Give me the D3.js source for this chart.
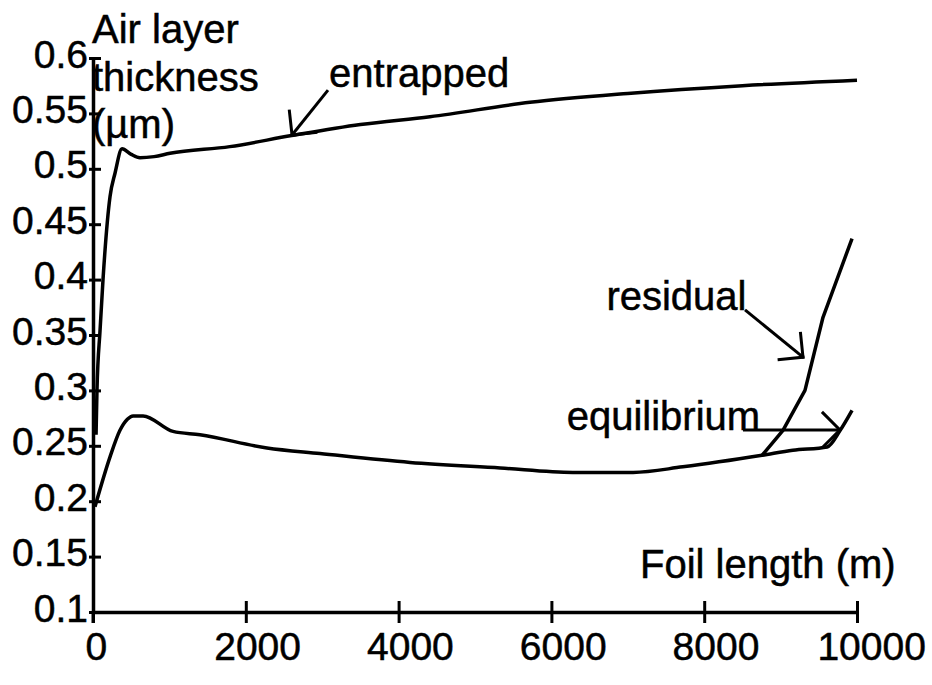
<!DOCTYPE html>
<html>
<head>
<meta charset="utf-8">
<script src="https://cdn.jsdelivr.net/npm/d3@7"></script>
<style>
  html, body { margin: 0; padding: 0; background: #fff; }
  svg { display: block; }
  text { font-family: "Liberation Sans", Arial, sans-serif; fill: #000; stroke: #000; stroke-width: 0.5px; }
</style>
</head>
<body>
<svg id="chart" width="932" height="685"></svg>
<script>
// ---- data ----
const xTicks = [0, 2000, 4000, 6000, 8000, 10000];
const yTicks = [0.1, 0.15, 0.2, 0.25, 0.3, 0.35, 0.4, 0.45, 0.5, 0.55, 0.6];
const yTickLabels = ["0.1", "0.15", "0.2", "0.25", "0.3", "0.35", "0.4", "0.45", "0.5", "0.55", "0.6"];

const entrappedX = [40, 52, 92, 131, 223, 288, 380, 500, 615, 800, 1008, 1790, 2600, 3500, 4410, 5720, 7000, 8500, 10000];
const entrappedY = [0.26, 0.30, 0.354, 0.40, 0.475, 0.496, 0.518, 0.513, 0.510, 0.511, 0.514, 0.520, 0.530, 0.540, 0.547, 0.560, 0.568, 0.575, 0.580];

const equilibriumX = [26, 223, 353, 450, 524, 655, 1047, 1400, 2277, 2971, 4150, 5330, 6280, 7070, 7720, 8757, 9160, 9610, 9780, 9935];
const equilibriumY = [0.195, 0.240, 0.264, 0.274, 0.277, 0.277, 0.263, 0.260, 0.248, 0.243, 0.235, 0.230, 0.226, 0.226, 0.231, 0.2414, 0.246, 0.249, 0.264, 0.282];

const residualX = [8757, 9031, 9319, 9555, 9935];
const residualY = [0.2414, 0.264, 0.300, 0.366, 0.437];

const axisTitleY = ["Air layer", "thickness", "(\u00b5m)"];
const axisTitleX = "Foil length (m)";

// annotations: label and arrow (start -> tip) in data units
const annotations = [
  { text: "entrapped",   tx: 3090, ty: 0.5735, x1: 3076, y1: 0.571, x2: 2605, y2: 0.5305 },
  { text: "residual",    tx: 6720, ty: 0.3726, x1: 8534, y1: 0.3726, x2: 9293, y2: 0.330 },
  { text: "equilibrium", tx: 6200, ty: 0.2643, x1: 8508, y1: 0.2643, x2: 9777, y2: 0.2643 }
];

// ---- chart ----
const svg = d3.select("#chart");
const x = d3.scaleLinear().domain([0, 10000]).range([93, 857]);
const y = d3.scaleLinear().domain([0.1, 0.6]).range([612, 58]);
const FONT = 39;

// X axis
const gx = svg.append("g").attr("transform", `translate(0,${y(0.1)})`);
gx.call(d3.axisBottom(x).tickValues(xTicks).tickFormat(d3.format("d")).tickSize(11).tickSizeOuter(0));
gx.select(".domain").attr("stroke", "#000").attr("stroke-width", 3.5);
gx.selectAll(".tick line").attr("stroke", "#000").attr("stroke-width", 3).attr("y1", -11).attr("y2", 11);
gx.selectAll(".tick text")
  .attr("font-size", FONT)
  .attr("font-family", "Liberation Sans, Arial, sans-serif")
  .attr("y", 48)
  .attr("dy", 0)
  .each(function () {
    const w = this.getComputedTextLength();
    d3.select(this).attr("dx", w * 0.13);
  });

// Y axis
const gy = svg.append("g").attr("transform", `translate(${x(0)},0)`);
gy.call(d3.axisLeft(y).tickValues(yTicks).tickFormat((d, i) => yTickLabels[i]).tickSize(0).tickPadding(5).tickSizeOuter(0));
gy.select(".domain").attr("stroke", "#000").attr("stroke-width", 3.5);
gy.selectAll(".tick line").attr("stroke", "#000").attr("stroke-width", 3).attr("x1", -4).attr("x2", 8);
gy.selectAll(".tick text")
  .attr("font-size", FONT)
  .attr("font-family", "Liberation Sans, Arial, sans-serif")
  .attr("dy", 0)
  .attr("y", 9);
// y-axis extends slightly below x axis (x-tick at 0)
svg.append("line")
  .attr("x1", x(0)).attr("x2", x(0))
  .attr("y1", y(0.1)).attr("y2", y(0.1) + 11)
  .attr("stroke", "#000").attr("stroke-width", 3);

// Axis titles
const yTitle = svg.append("text")
  .attr("x", x(0) - 1).attr("y", 43)
  .attr("font-size", 40);
axisTitleY.forEach((t, i) => {
  yTitle.append("tspan").attr("x", x(0) - 1).attr("dy", i === 0 ? 0 : 47.5).text(t);
});
svg.append("text")
  .attr("x", 640).attr("y", 578)
  .attr("font-size", 40)
  .text(axisTitleX);

// Curves
const lineSmooth = d3.line().x(d => x(d[0])).y(d => y(d[1])).curve(d3.curveMonotoneX);
const lineStraight = d3.line().x(d => x(d[0])).y(d => y(d[1]));

function series(xs, ys) { return xs.map((v, i) => [v, ys[i]]); }

svg.append("path").datum(series(entrappedX, entrappedY))
  .attr("d", lineSmooth).attr("fill", "none").attr("stroke", "#000").attr("stroke-width", 3.5)
  .attr("stroke-linejoin", "round");
svg.append("path").datum(series(equilibriumX, equilibriumY))
  .attr("d", lineSmooth).attr("fill", "none").attr("stroke", "#000").attr("stroke-width", 3.5)
  .attr("stroke-linejoin", "round");
svg.append("path").datum(series(residualX, residualY))
  .attr("d", lineStraight).attr("fill", "none").attr("stroke", "#000").attr("stroke-width", 3.5)
  .attr("stroke-linejoin", "round");

// Annotations
annotations.forEach(a => {
  svg.append("text")
    .attr("x", x(a.tx)).attr("y", y(a.ty))
    .attr("font-size", 40)
    .text(a.text);
  const X1 = x(a.x1), Y1 = y(a.y1), X2 = x(a.x2), Y2 = y(a.y2);
  svg.append("line")
    .attr("x1", X1).attr("y1", Y1).attr("x2", X2).attr("y2", Y2)
    .attr("stroke", "#000").attr("stroke-width", 3);
  const ang = Math.atan2(Y1 - Y2, X1 - X2);
  const L = 24, spread = Math.PI / 4;
  [ang - spread, ang + spread].forEach(b => {
    svg.append("line")
      .attr("x1", X2).attr("y1", Y2)
      .attr("x2", X2 + L * Math.cos(b)).attr("y2", Y2 + L * Math.sin(b))
      .attr("stroke", "#000").attr("stroke-width", 3).attr("stroke-linecap", "square");
  });
});
</script>
</body>
</html>
